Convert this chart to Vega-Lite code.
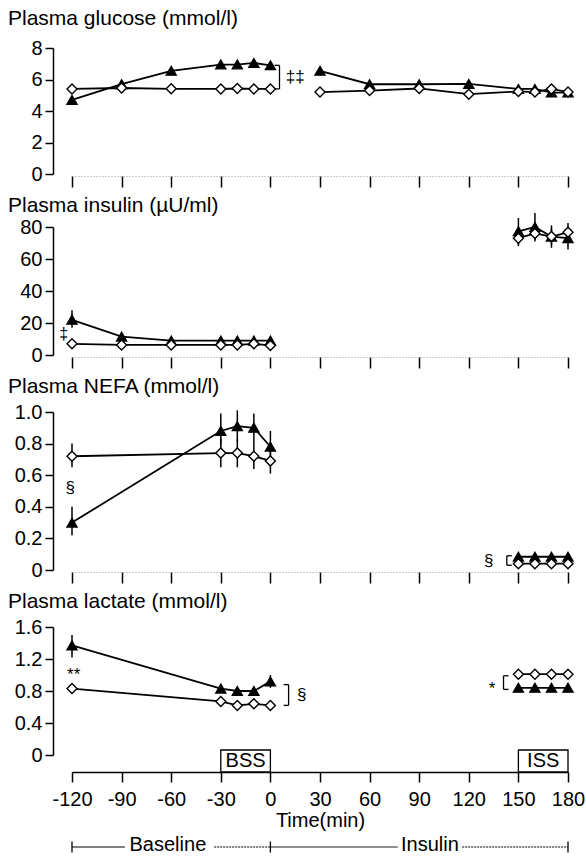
{
  "$schema": "https://vega.github.io/schema/vega-lite/v6.json",
  "background": "white",
  "padding": {"top": 8, "left": 8, "right": 0, "bottom": 0},
  "spacing": 7,
  "config": {
    "font": "Liberation Sans",
    "view": {"stroke": null},
    "axis": {"labelFont": "Liberation Sans", "labelFontSize": 20, "labelColor": "black", "labelOverlap": false, "tickColor": "black", "domainColor": "black", "grid": false, "titleFont": "Liberation Sans", "titleFontWeight": "normal", "titleColor": "black", "titleFontSize": 20, "tickWidth": 1.5, "domainWidth": 1.5},
    "title": {"font": "Liberation Sans", "fontSize": 21, "fontWeight": "normal", "anchor": "start", "frame": "group", "dx": -64, "baseline": "bottom", "color": "black"},
    "text": {"font": "Liberation Sans", "fontSize": 17, "fill": "black"}
  },
  "datasets": {
    "pts": [
      {"p":"glu","g":"A","s":"b","t":-120,"v":4.7},{"p":"glu","g":"A","s":"b","t":-90,"v":5.7},{"p":"glu","g":"A","s":"b","t":-60,"v":6.55},{"p":"glu","g":"A","s":"b","t":-30,"v":6.95},{"p":"glu","g":"A","s":"b","t":-20,"v":6.95},{"p":"glu","g":"A","s":"b","t":-10,"v":7.05},{"p":"glu","g":"A","s":"b","t":0,"v":6.9},
      {"p":"glu","g":"A","s":"i","t":30,"v":6.55},{"p":"glu","g":"A","s":"i","t":60,"v":5.7},{"p":"glu","g":"A","s":"i","t":90,"v":5.7},{"p":"glu","g":"A","s":"i","t":120,"v":5.72},{"p":"glu","g":"A","s":"i","t":150,"v":5.4},{"p":"glu","g":"A","s":"i","t":160,"v":5.4},{"p":"glu","g":"A","s":"i","t":170,"v":5.17},{"p":"glu","g":"A","s":"i","t":180,"v":5.17},
      {"p":"glu","g":"B","s":"b","t":-120,"v":5.4},{"p":"glu","g":"B","s":"b","t":-90,"v":5.46},{"p":"glu","g":"B","s":"b","t":-60,"v":5.41},{"p":"glu","g":"B","s":"b","t":-30,"v":5.4},{"p":"glu","g":"B","s":"b","t":-20,"v":5.43},{"p":"glu","g":"B","s":"b","t":-10,"v":5.4},{"p":"glu","g":"B","s":"b","t":0,"v":5.4},
      {"p":"glu","g":"B","s":"i","t":30,"v":5.2},{"p":"glu","g":"B","s":"i","t":60,"v":5.3},{"p":"glu","g":"B","s":"i","t":90,"v":5.43},{"p":"glu","g":"B","s":"i","t":120,"v":5.07},{"p":"glu","g":"B","s":"i","t":150,"v":5.24},{"p":"glu","g":"B","s":"i","t":160,"v":5.2},{"p":"glu","g":"B","s":"i","t":170,"v":5.4},{"p":"glu","g":"B","s":"i","t":180,"v":5.2},

      {"p":"ins","g":"A","s":"b","t":-120,"v":22,"lo":17,"hi":28},{"p":"ins","g":"A","s":"b","t":-90,"v":11.5,"lo":9.5,"hi":13.8},{"p":"ins","g":"A","s":"b","t":-60,"v":9,"lo":9,"hi":11},{"p":"ins","g":"A","s":"b","t":-30,"v":9,"lo":9,"hi":11.5},{"p":"ins","g":"A","s":"b","t":-20,"v":9,"lo":9,"hi":11.5},{"p":"ins","g":"A","s":"b","t":-10,"v":9,"lo":9,"hi":11.5},{"p":"ins","g":"A","s":"b","t":0,"v":9,"lo":9,"hi":11.5},
      {"p":"ins","g":"A","s":"i","t":150,"v":77.3,"lo":69,"hi":85.6},{"p":"ins","g":"A","s":"i","t":160,"v":80,"lo":72,"hi":88.8},{"p":"ins","g":"A","s":"i","t":170,"v":74,"lo":67,"hi":81},{"p":"ins","g":"A","s":"i","t":180,"v":73,"lo":66,"hi":80},
      {"p":"ins","g":"B","s":"b","t":-120,"v":7},{"p":"ins","g":"B","s":"b","t":-90,"v":6.3},{"p":"ins","g":"B","s":"b","t":-60,"v":6.3},{"p":"ins","g":"B","s":"b","t":-30,"v":6.3},{"p":"ins","g":"B","s":"b","t":-20,"v":6.3},{"p":"ins","g":"B","s":"b","t":-10,"v":7},{"p":"ins","g":"B","s":"b","t":0,"v":6},
      {"p":"ins","g":"B","s":"i","t":150,"v":73,"lo":68,"hi":77},{"p":"ins","g":"B","s":"i","t":160,"v":76,"lo":71,"hi":81},{"p":"ins","g":"B","s":"i","t":170,"v":74,"lo":69,"hi":79},{"p":"ins","g":"B","s":"i","t":180,"v":76.7,"lo":72,"hi":82.5},

      {"p":"nefa","g":"A","s":"b","t":-120,"v":0.30,"lo":0.22,"hi":0.40},{"p":"nefa","g":"A","s":"b","t":-30,"v":0.88,"lo":0.79,"hi":0.99},{"p":"nefa","g":"A","s":"b","t":-20,"v":0.91,"lo":0.81,"hi":1.01},{"p":"nefa","g":"A","s":"b","t":-10,"v":0.90,"lo":0.81,"hi":0.99},{"p":"nefa","g":"A","s":"b","t":0,"v":0.78,"lo":0.69,"hi":0.88},
      {"p":"nefa","g":"A","s":"i","t":150,"v":0.084},{"p":"nefa","g":"A","s":"i","t":160,"v":0.084},{"p":"nefa","g":"A","s":"i","t":170,"v":0.084},{"p":"nefa","g":"A","s":"i","t":180,"v":0.084},
      {"p":"nefa","g":"B","s":"b","t":-120,"v":0.72,"lo":0.65,"hi":0.80},{"p":"nefa","g":"B","s":"b","t":-30,"v":0.74,"lo":0.65,"hi":0.83},{"p":"nefa","g":"B","s":"b","t":-20,"v":0.74,"lo":0.65,"hi":0.83},{"p":"nefa","g":"B","s":"b","t":-10,"v":0.72,"lo":0.64,"hi":0.81},{"p":"nefa","g":"B","s":"b","t":0,"v":0.69,"lo":0.61,"hi":0.79},
      {"p":"nefa","g":"B","s":"i","t":150,"v":0.04},{"p":"nefa","g":"B","s":"i","t":160,"v":0.04},{"p":"nefa","g":"B","s":"i","t":170,"v":0.04},{"p":"nefa","g":"B","s":"i","t":180,"v":0.04},

      {"p":"lac","g":"A","s":"b","t":-120,"v":1.37,"lo":1.22,"hi":1.5},{"p":"lac","g":"A","s":"b","t":-30,"v":0.83},{"p":"lac","g":"A","s":"b","t":-20,"v":0.80},{"p":"lac","g":"A","s":"b","t":-10,"v":0.80},{"p":"lac","g":"A","s":"b","t":0,"v":0.92,"lo":0.84,"hi":1.0},
      {"p":"lac","g":"A","s":"i","t":150,"v":0.84},{"p":"lac","g":"A","s":"i","t":160,"v":0.84},{"p":"lac","g":"A","s":"i","t":170,"v":0.84},{"p":"lac","g":"A","s":"i","t":180,"v":0.84},
      {"p":"lac","g":"B","s":"b","t":-120,"v":0.83},{"p":"lac","g":"B","s":"b","t":-30,"v":0.67},{"p":"lac","g":"B","s":"b","t":-20,"v":0.62},{"p":"lac","g":"B","s":"b","t":-10,"v":0.64},{"p":"lac","g":"B","s":"b","t":0,"v":0.62},
      {"p":"lac","g":"B","s":"i","t":150,"v":1.01},{"p":"lac","g":"B","s":"i","t":160,"v":1.01},{"p":"lac","g":"B","s":"i","t":170,"v":1.01},{"p":"lac","g":"B","s":"i","t":180,"v":1.01}
    ],
    "ann": [
      {"p":"glu","t":15,"v":6.15,"label":"‡‡"},
      {"p":"ins","t":-125,"v":13,"label":"‡"},
      {"p":"nefa","t":-121,"v":0.52,"label":"§"},
      {"p":"nefa","t":132,"v":0.06,"label":"§"},
      {"p":"lac","t":-119,"v":1.0,"label":"**"},
      {"p":"lac","t":19,"v":0.75,"label":"§"},
      {"p":"lac","t":134,"v":0.82,"label":"*"}
    ],
    "seg": [
      {"p":"glu","t":5.5,"t2":5.5,"v":5.4,"v2":6.9},{"p":"glu","t":2.5,"t2":5.5,"v":6.9,"v2":6.9},{"p":"glu","t":2.5,"t2":5.5,"v":5.4,"v2":5.4},
      {"p":"nefa","t":143,"t2":143,"v":0.03,"v2":0.09},{"p":"nefa","t":143,"t2":146,"v":0.09,"v2":0.09},{"p":"nefa","t":143,"t2":146,"v":0.03,"v2":0.03},
      {"p":"lac","t":11,"t2":11,"v":0.62,"v2":0.88},{"p":"lac","t":8,"t2":11,"v":0.88,"v2":0.88},{"p":"lac","t":8,"t2":11,"v":0.62,"v2":0.62},
      {"p":"lac","t":141,"t2":141,"v":0.82,"v2":0.99},{"p":"lac","t":141,"t2":144,"v":0.99,"v2":0.99},{"p":"lac","t":141,"t2":144,"v":0.82,"v2":0.82}
    ],
    "boxes": [
      {"label":"BSS","t":-30,"t2":0,"mid":-15},
      {"label":"ISS","t":150,"t2":180,"mid":165}
    ],
    "phaseLine": [
      {"t":-120,"t2":-88,"kind":"solid"},{"t":-34,"t2":0,"kind":"dotted"},{"t":0,"t2":77,"kind":"solid"},{"t":116,"t2":180,"kind":"dotted"}
    ],
    "phaseEnds": [{"t":-120},{"t":0},{"t":180}],
    "phaseText": [{"label":"Baseline","t":-62},{"label":"Insulin","t":96.5}]
  },
  "vconcat": [
    {
      "title": {"text": "Plasma glucose (mmol/l)", "offset": 9},
      "width": 496, "height": 126,
      "data": {"name": "pts"},
      "transform": [{"filter": "datum.p == 'glu'"}],
      "encoding": {
        "x": {"field": "t", "type": "quantitative", "scale": {"domain": [-120, 180], "nice": false, "zero": false}, "axis": {"values": [-120,-90,-60,-30,0,30,60,90,120,150,180], "labels": false, "title": null, "offset": 2, "tickSize": 11, "domainColor": "#999", "domainDash": [1, 2], "domainWidth": 1}},
        "y": {"field": "v", "type": "quantitative", "scale": {"domain": [0, 8]}, "axis": {"values": [0,2,4,6,8], "labelOverlap": false, "title": null, "offset": 19, "tickSize": 8, "labelPadding": 3}}
      },
      "layer": [
        {"data": {"name": "seg"}, "transform": [{"filter": "datum.p == 'glu'"}], "mark": {"type": "rule", "color": "black", "strokeWidth": 1.3}, "encoding": {"x2": {"field": "t2"}, "y2": {"field": "v2"}}},
        {"data": {"name": "ann"}, "transform": [{"filter": "datum.p == 'glu'"}], "mark": {"type": "text", "fill": "black"}, "encoding": {"text": {"field": "label"}}},
        {"mark": {"type": "line", "color": "black", "strokeWidth": 1.8}, "encoding": {"detail": [{"field": "g"}, {"field": "s"}]}},
        {"mark": {"type": "point", "filled": true, "stroke": "black", "strokeWidth": 1.4, "size": 100, "opacity": 1}, "encoding": {"shape": {"field": "g", "scale": {"domain": ["A","B"], "range": ["triangle-up","diamond"]}, "legend": null}, "fill": {"field": "g", "scale": {"domain": ["A","B"], "range": ["black","white"]}, "legend": null}}}
      ]
    },
    {
      "title": {"text": "Plasma insulin (µU/ml)", "offset": -4},
      "width": 496, "height": 128,
      "data": {"name": "pts"},
      "transform": [{"filter": "datum.p == 'ins'"}],
      "encoding": {
        "x": {"field": "t", "type": "quantitative", "scale": {"domain": [-120, 180], "nice": false, "zero": false}, "axis": {"values": [-120,-90,-60,-30,0,30,60,90,120,150,180], "labels": false, "title": null, "offset": 2, "tickSize": 11, "domainColor": "#999", "domainDash": [1, 2], "domainWidth": 1}},
        "y": {"field": "v", "type": "quantitative", "scale": {"domain": [0, 80]}, "axis": {"values": [0,20,40,60,80], "labelOverlap": false, "title": null, "offset": 19, "tickSize": 8, "labelPadding": 3}}
      },
      "layer": [
        {"transform": [{"filter": "isValid(datum.lo)"}], "mark": {"type": "rule", "color": "black", "strokeWidth": 1.5}, "encoding": {"y": {"field": "lo", "type": "quantitative", "scale": {"domain": [0, 80]}, "axis": {"values": [0,20,40,60,80], "labelOverlap": false, "title": null, "offset": 19, "tickSize": 8, "labelPadding": 3}}, "y2": {"field": "hi"}}},
        {"data": {"name": "ann"}, "transform": [{"filter": "datum.p == 'ins'"}], "mark": {"type": "text", "fontSize": 16, "fill": "black"}, "encoding": {"text": {"field": "label"}}},
        {"mark": {"type": "line", "color": "black", "strokeWidth": 1.8}, "encoding": {"detail": [{"field": "g"}, {"field": "s"}]}},
        {"mark": {"type": "point", "filled": true, "stroke": "black", "strokeWidth": 1.4, "size": 100, "opacity": 1}, "encoding": {"shape": {"field": "g", "scale": {"domain": ["A","B"], "range": ["triangle-up","diamond"]}, "legend": null}, "fill": {"field": "g", "scale": {"domain": ["A","B"], "range": ["black","white"]}, "legend": null}}}
      ]
    },
    {
      "title": {"text": "Plasma NEFA (mmol/l)", "offset": 5},
      "width": 496, "height": 158,
      "data": {"name": "pts"},
      "transform": [{"filter": "datum.p == 'nefa'"}],
      "encoding": {
        "x": {"field": "t", "type": "quantitative", "scale": {"domain": [-120, 180], "nice": false, "zero": false}, "axis": {"values": [-120,-90,-60,-30,0,30,60,90,120,150,180], "labels": false, "title": null, "offset": 2, "tickSize": 11, "domainColor": "#999", "domainDash": [1, 2], "domainWidth": 1}},
        "y": {"field": "v", "type": "quantitative", "scale": {"domain": [0, 1]}, "axis": {"values": [0,0.2,0.4,0.6,0.8,1.0], "labelOverlap": false, "labelExpr": "datum.value == 0 ? '0' : format(datum.value, '.1f')", "title": null, "offset": 19, "tickSize": 8, "labelPadding": 3}}
      },
      "layer": [
        {"transform": [{"filter": "isValid(datum.lo)"}], "mark": {"type": "rule", "color": "black", "strokeWidth": 1.5}, "encoding": {"y": {"field": "lo", "type": "quantitative", "scale": {"domain": [0, 1]}, "axis": {"values": [0,0.2,0.4,0.6,0.8,1.0], "labelOverlap": false, "labelExpr": "datum.value == 0 ? '0' : format(datum.value, '.1f')", "title": null, "offset": 19, "tickSize": 8, "labelPadding": 3}}, "y2": {"field": "hi"}}},
        {"data": {"name": "seg"}, "transform": [{"filter": "datum.p == 'nefa'"}], "mark": {"type": "rule", "color": "black", "strokeWidth": 1.3}, "encoding": {"x2": {"field": "t2"}, "y2": {"field": "v2"}}},
        {"data": {"name": "ann"}, "transform": [{"filter": "datum.p == 'nefa'"}], "mark": {"type": "text", "fill": "black"}, "encoding": {"text": {"field": "label"}}},
        {"mark": {"type": "line", "color": "black", "strokeWidth": 1.8}, "encoding": {"detail": [{"field": "g"}, {"field": "s"}]}},
        {"mark": {"type": "point", "filled": true, "stroke": "black", "strokeWidth": 1.4, "size": 100, "opacity": 1}, "encoding": {"shape": {"field": "g", "scale": {"domain": ["A","B"], "range": ["triangle-up","diamond"]}, "legend": null}, "fill": {"field": "g", "scale": {"domain": ["A","B"], "range": ["black","white"]}, "legend": null}}}
      ]
    },
    {
      "title": {"text": "Plasma lactate (mmol/l)", "offset": 5},
      "width": 496, "height": 128,
      "encoding": {
        "x": {"field": "t", "type": "quantitative", "scale": {"domain": [-120, 180], "nice": false, "zero": false}, "axis": {"values": [-120,-90,-60,-30,0,30,60,90,120,150,180], "labelExpr": "'' + datum.value", "title": "Time(min)", "offset": 17, "tickSize": 10, "labelPadding": 7, "titlePadding": 1, "labelFlush": false}}
      },
      "layer": [
        {"data": {"name": "pts"}, "transform": [{"filter": "datum.p == 'lac' && isValid(datum.lo)"}], "mark": {"type": "rule", "color": "black", "strokeWidth": 1.5}, "encoding": {"y": {"field": "lo", "type": "quantitative", "scale": {"domain": [0, 1.6]}, "axis": {"values": [0,0.4,0.8,1.2,1.6], "labelOverlap": false, "labelExpr": "datum.value == 0 ? '0' : format(datum.value, '.1f')", "title": null, "offset": 19, "tickSize": 8, "labelPadding": 3}}, "y2": {"field": "hi"}}},
        {"data": {"name": "seg"}, "transform": [{"filter": "datum.p == 'lac'"}], "mark": {"type": "rule", "color": "black", "strokeWidth": 1.3}, "encoding": {"x2": {"field": "t2"}, "y": {"field": "v", "type": "quantitative", "scale": {"domain": [0, 1.6]}, "axis": {"values": [0,0.4,0.8,1.2,1.6], "labelOverlap": false, "labelExpr": "datum.value == 0 ? '0' : format(datum.value, '.1f')", "title": null, "offset": 19, "tickSize": 8, "labelPadding": 3}}, "y2": {"field": "v2"}}},
        {"data": {"name": "ann"}, "transform": [{"filter": "datum.p == 'lac'"}], "mark": {"type": "text", "fill": "black"}, "encoding": {"y": {"field": "v", "type": "quantitative", "scale": {"domain": [0, 1.6]}, "axis": {"values": [0,0.4,0.8,1.2,1.6], "labelOverlap": false, "labelExpr": "datum.value == 0 ? '0' : format(datum.value, '.1f')", "title": null, "offset": 19, "tickSize": 8, "labelPadding": 3}}, "text": {"field": "label"}}},
        {"data": {"name": "pts"}, "transform": [{"filter": "datum.p == 'lac'"}], "mark": {"type": "line", "color": "black", "strokeWidth": 1.8}, "encoding": {"y": {"field": "v", "type": "quantitative", "scale": {"domain": [0, 1.6]}, "axis": {"values": [0,0.4,0.8,1.2,1.6], "labelOverlap": false, "labelExpr": "datum.value == 0 ? '0' : format(datum.value, '.1f')", "title": null, "offset": 19, "tickSize": 8, "labelPadding": 3}}, "detail": [{"field": "g"}, {"field": "s"}]}},
        {"data": {"name": "pts"}, "transform": [{"filter": "datum.p == 'lac'"}], "mark": {"type": "point", "filled": true, "stroke": "black", "strokeWidth": 1.4, "size": 100, "opacity": 1}, "encoding": {"y": {"field": "v", "type": "quantitative", "scale": {"domain": [0, 1.6]}, "axis": {"values": [0,0.4,0.8,1.2,1.6], "labelOverlap": false, "labelExpr": "datum.value == 0 ? '0' : format(datum.value, '.1f')", "title": null, "offset": 19, "tickSize": 8, "labelPadding": 3}}, "shape": {"field": "g", "scale": {"domain": ["A","B"], "range": ["triangle-up","diamond"]}, "legend": null}, "fill": {"field": "g", "scale": {"domain": ["A","B"], "range": ["black","white"]}, "legend": null}}},
        {"data": {"name": "boxes"}, "mark": {"type": "rect", "fill": "white", "stroke": "black", "strokeWidth": 1.3}, "encoding": {"x2": {"field": "t2"}, "y": {"datum": 0.0625, "type": "quantitative", "scale": {"domain": [0, 1.6]}, "axis": {"values": [0,0.4,0.8,1.2,1.6], "labelOverlap": false, "labelExpr": "datum.value == 0 ? '0' : format(datum.value, '.1f')", "title": null, "offset": 19, "tickSize": 8, "labelPadding": 3}}, "y2": {"datum": -0.2125}}},
        {"data": {"name": "boxes"}, "mark": {"type": "text", "fontSize": 20, "fill": "black"}, "encoding": {"x": {"field": "mid", "type": "quantitative"}, "y": {"datum": -0.075, "type": "quantitative", "scale": {"domain": [0, 1.6]}, "axis": {"values": [0,0.4,0.8,1.2,1.6], "labelOverlap": false, "labelExpr": "datum.value == 0 ? '0' : format(datum.value, '.1f')", "title": null, "offset": 19, "tickSize": 8, "labelPadding": 3}}, "text": {"field": "label"}}},
        {"data": {"name": "phaseLine"}, "mark": {"type": "rule", "color": "black", "strokeWidth": 1}, "encoding": {"x2": {"field": "t2"}, "y": {"datum": -1.15, "type": "quantitative", "scale": {"domain": [0, 1.6]}, "axis": {"values": [0,0.4,0.8,1.2,1.6], "labelOverlap": false, "labelExpr": "datum.value == 0 ? '0' : format(datum.value, '.1f')", "title": null, "offset": 19, "tickSize": 8, "labelPadding": 3}}, "strokeDash": {"field": "kind", "scale": {"domain": ["solid", "dotted"], "range": [[1, 0], [2, 1]]}, "legend": null}}},
        {"data": {"name": "phaseEnds"}, "mark": {"type": "rule", "color": "black", "strokeWidth": 1.3}, "encoding": {"y": {"datum": -1.08, "type": "quantitative", "scale": {"domain": [0, 1.6]}, "axis": {"values": [0,0.4,0.8,1.2,1.6], "labelOverlap": false, "labelExpr": "datum.value == 0 ? '0' : format(datum.value, '.1f')", "title": null, "offset": 19, "tickSize": 8, "labelPadding": 3}}, "y2": {"datum": -1.22}}},
        {"data": {"name": "phaseText"}, "mark": {"type": "text", "fontSize": 20, "fill": "black"}, "encoding": {"y": {"datum": -1.125, "type": "quantitative", "scale": {"domain": [0, 1.6]}, "axis": {"values": [0,0.4,0.8,1.2,1.6], "labelOverlap": false, "labelExpr": "datum.value == 0 ? '0' : format(datum.value, '.1f')", "title": null, "offset": 19, "tickSize": 8, "labelPadding": 3}}, "text": {"field": "label"}}}
      ]
    }
  ]
}
